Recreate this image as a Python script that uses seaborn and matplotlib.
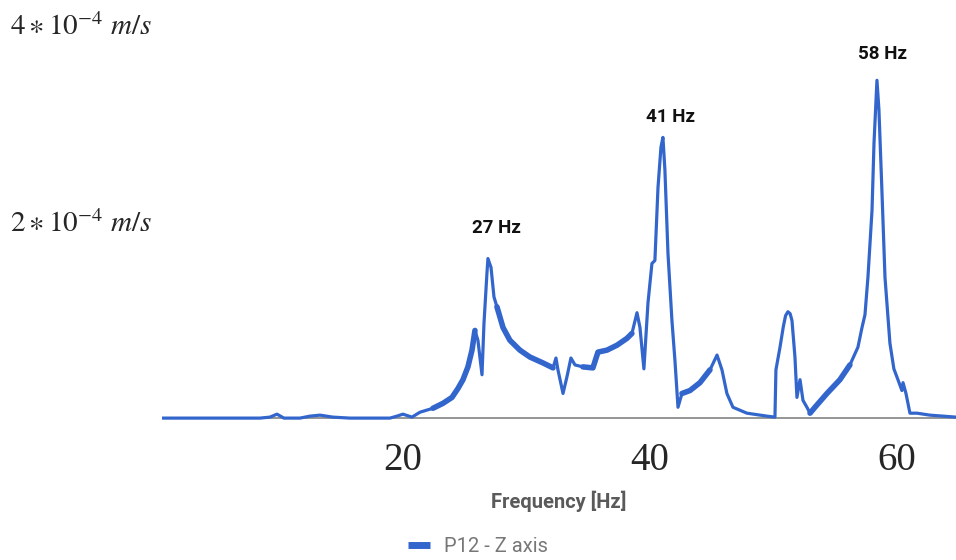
import matplotlib
matplotlib.use("Agg")
import matplotlib.pyplot as plt
import seaborn as sns
import pandas as pd
from matplotlib.lines import Line2D

# spectrum: frequency [Hz] and amplitude [1e-4 m/s]
freq = [0.49, 8.42, 9.23, 9.80, 10.36, 11.66, 12.47, 13.28, 14.33, 15.71,
        18.95, 19.51, 20.00, 20.73, 21.38, 22.43, 23.24, 23.97, 24.45, 24.86,
        25.26, 25.59, 25.83, 26.07, 26.40, 26.56, 26.80, 26.88, 27.13, 27.37,
        27.61, 28.10, 28.66, 29.47, 30.28, 31.34, 32.15, 32.39, 32.55, 32.96,
        33.28, 33.60, 33.93, 34.57, 35.38, 35.79, 36.52, 37.33, 38.14, 38.54,
        38.95, 39.19, 39.51, 39.84, 40.16, 40.40, 40.65, 40.89, 41.05, 41.21,
        41.46, 41.78, 42.02, 42.27, 42.59, 43.24, 44.05, 44.86, 45.43, 45.83,
        46.23, 46.72, 47.85, 49.47, 50.12, 50.20, 50.53, 50.80, 50.98, 51.17,
        51.35, 51.50, 51.74, 51.90, 52.15, 52.39, 52.71, 52.96, 53.36, 54.33,
        55.38, 56.19, 56.84, 57.17, 57.41, 57.65, 57.98, 58.14, 58.38, 58.54,
        58.79, 59.03, 59.43, 59.75, 60.08, 60.40, 60.49, 60.73, 61.05, 61.62,
        62.67, 64.78]
amp = [0.00, 0.00, 0.01, 0.04, 0.00, 0.00, 0.02, 0.03, 0.01, 0.00,
       0.00, 0.02, 0.04, 0.01, 0.06, 0.10, 0.15, 0.21, 0.30, 0.39,
       0.52, 0.69, 0.89, 0.79, 0.44, 0.96, 1.47, 1.62, 1.53, 1.23,
       1.13, 0.92, 0.79, 0.69, 0.62, 0.56, 0.51, 0.61, 0.49, 0.25,
       0.42, 0.61, 0.54, 0.52, 0.51, 0.67, 0.69, 0.74, 0.81, 0.86,
       1.07, 0.92, 0.50, 1.17, 1.57, 1.60, 2.34, 2.75, 2.85, 2.52,
       1.67, 0.99, 0.59, 0.11, 0.25, 0.28, 0.36, 0.49, 0.64, 0.49,
       0.25, 0.11, 0.05, 0.02, 0.01, 0.49, 0.72, 0.93, 1.04, 1.08,
       1.06, 0.99, 0.62, 0.21, 0.39, 0.18, 0.11, 0.05, 0.11, 0.25,
       0.39, 0.54, 0.72, 0.92, 1.05, 1.43, 2.11, 2.79, 3.43, 3.13,
       2.28, 1.43, 0.76, 0.50, 0.39, 0.28, 0.36, 0.25, 0.05, 0.05,
       0.03, 0.01]

# stretches where the measured trace is a dense, noisy band
noisy_bands = [(22.4, 26.0), (27.5, 32.2), (34.5, 38.6), (42.5, 45.0), (52.9, 56.2)]

peak_freq = [26.88, 41.05, 58.38]
peak_amp = [1.62, 2.85, 3.43]
peak_labels = ["27 Hz", "41 Hz", "58 Hz"]

x_ticks = [20, 40, 60]
y_ticks = [2, 4]
y_labels = [r"$2 \ast 10^{-4}\ m/s$", r"$4 \ast 10^{-4}\ m/s$"]

df = pd.DataFrame({"freq": freq, "amp": amp})

sns.set_style("white")
plt.rcParams["font.family"] = ["Roboto", "DejaVu Sans"]
plt.rcParams["mathtext.fontset"] = "stix"

fig = plt.figure(figsize=(9.56, 5.6), dpi=100)
ax = fig.add_axes([162 / 956, 135 / 560, 794 / 956, 425 / 560])

blue = "#3366cc"
ax.axhline(0, color="#8c8c8c", lw=1.3, zorder=1)
sns.lineplot(data=df, x="freq", y="amp", ax=ax, color=blue, linewidth=2.3,
             estimator=None, sort=False, zorder=2)
for lo, hi in noisy_bands:
    part = df[(df.freq >= lo) & (df.freq <= hi)]
    sns.lineplot(data=part, x="freq", y="amp", ax=ax, color=blue, linewidth=4.0,
                 estimator=None, sort=False, zorder=2, solid_capstyle="round")

ax.set_xlim(0.49, 64.78)
ax.set_ylim(-0.07, 4.245)
for s in ax.spines.values():
    s.set_visible(False)

ax.set_xticks(x_ticks)
ax.set_xticklabels([str(t) for t in x_ticks], family="Liberation Serif", fontsize=28)
ax.set_yticks(y_ticks)
ax.set_yticklabels(y_labels, fontsize=21)
ax.tick_params(axis="x", length=0, pad=12)
ax.tick_params(axis="y", length=0, pad=7)

ax.set_xlabel("Frequency [Hz]", fontsize=14.5, weight="bold", color="#5a5a5a", va="center")
ax.set_ylabel("")
ax.xaxis.set_label_coords(0.5, -0.179)

offsets = [(9, 31), (8, 20), (6, 26)]
for fx, fy, lab, off in zip(peak_freq, peak_amp, peak_labels, offsets):
    ax.annotate(lab, xy=(fx, fy), xytext=off, textcoords="offset pixels",
                ha="center", va="center", fontsize=13.5, weight="bold", color="#111111")

handle = Line2D([0], [0], color=blue, lw=5, solid_capstyle="butt")
fig.legend([handle], ["P12 - Z axis"], loc="center", bbox_to_anchor=(0.5, 1 - 547 / 560),
           frameon=False, fontsize=14.5, labelcolor="#777777", handlelength=1.1,
           handletextpad=0.7)

fig.savefig("out.png", dpi=100)
